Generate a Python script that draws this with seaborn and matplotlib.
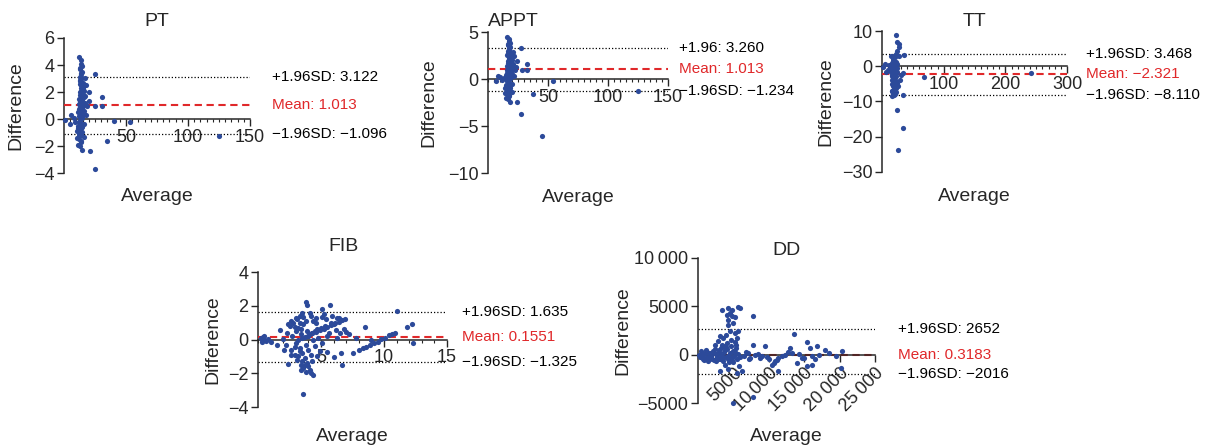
import pandas as pd
import matplotlib
matplotlib.use("Agg")
import matplotlib.pyplot as plt
import matplotlib.transforms as mtransforms
from matplotlib.ticker import MultipleLocator
import seaborn as sns

# ---- data (Bland-Altman plots) ----
pt_avg = [12.3, 13.5, 13.8, 14.2, 13.0, 14.8, 13.6, 12.8, 14.5, 13.2,
          15.1, 12.5, 14.0, 13.4, 15.6, 16.4, 12.9, 14.6, 13.1, 17.2,
          15.8, 12.2, 14.3, 13.7, 16.9, 11.8, 15.2, 18.5, 13.3, 14.9,
          12.6, 16.1, 11.5, 13.9, 15.5, 12.1, 14.4, 17.6, 19.8, 20.5,
          18.0, 16.8, 24.8,
          12.0, 13.6, 11.2, 14.7, 12.7, 13.3, 11.9, 14.1, 10.8, 12.4,
          13.8, 11.6, 12.9, 14.5, 15.8, 16.5, 10.4,
          1.0, 5.0, 6.0, 8.0, 9.0,
          25.0, 31.0, 31.0, 40.0, 53.0, 35.0, 21.0, 25.0, 125.0,
          13.1, 14.0, 12.6, 15.0, 13.5, 14.2, 12.9, 13.7, 14.8, 12.4,
          13.2, 15.4, 14.1, 13.0, 12.7, 13.9, 14.6, 11.4, 12.3, 13.4]
pt_diff = [4.6, 4.4, 4.1, 3.9, 3.7, 3.5, 3.3, 3.1, 3.0, 2.8,
           2.7, 2.6, 2.5, 2.3, 2.2, 2.1, 2.0, 1.9, 1.8, 1.7,
           1.6, 1.5, 1.4, 1.3, 1.2, 1.1, 1.0, 1.0, 0.9, 0.8,
           0.7, 0.6, 0.5, 0.4, 0.3, 0.2, 0.1, 0.3, 1.3, 2.0,
           2.5, 3.0, 1.0,
           -0.2, -0.3, -0.5, -0.6, -0.8, -1.0, -1.1, -1.2, -1.4, -1.5,
           -1.7, -1.9, -2.0, -2.3, -1.3, -0.4, -0.9,
           -0.1, -0.4, 0.3, 0.1, -0.2,
           3.3, 1.6, 1.0, -0.15, -0.2, -1.6, -2.4, -3.7, -1.25,
           3.8, 3.4, 2.9, 2.4, 2.1, 1.7, 1.35, 1.15, 0.95, 0.75,
           0.55, 0.45, 0.15, -0.1, -0.45, -0.7, -0.95, -0.7, -1.25, -1.6]

appt_avg = [16.0, 17.2, 17.5, 18.0, 16.8, 18.6, 17.4, 16.5, 18.3, 17.0,
            19.0, 16.2, 17.8, 17.1, 19.5, 20.3, 16.7, 18.4, 16.9, 21.0,
            19.6, 15.9, 18.1, 17.5, 20.8, 15.5, 19.0, 22.4, 17.1, 18.7,
            16.3, 20.0, 15.2, 17.7, 19.3, 15.8, 18.2, 21.5, 23.6, 24.3,
            21.9, 20.6, 28.5,
            15.7, 17.4, 14.9, 18.5, 16.4, 17.1, 15.6, 17.9, 14.5, 16.1,
            17.6, 15.3, 16.6, 18.3, 19.6, 20.3, 14.1,
            6.5, 8.0, 10.0, 12.0, 13.0,
            27.5, 32.5, 32.5, 54.0, 37.5, 24.0, 27.5, 45.0, 125.0,
            16.9, 17.8, 16.4, 18.8, 17.3, 18.0, 16.7, 17.5, 18.6, 16.2,
            17.0, 19.2, 17.9, 16.8, 16.5, 17.7, 18.4, 15.1, 16.0, 17.2]
appt_diff = [4.5, 4.3, 4.0, 3.8, 3.6, 3.4, 3.2, 3.0, 2.9, 2.7,
             2.6, 2.5, 2.4, 2.2, 2.1, 2.0, 1.9, 1.8, 1.7, 1.6,
             1.5, 1.4, 1.3, 1.2, 1.1, 1.0, 0.9, 1.0, 0.8, 0.7,
             0.6, 0.5, 0.4, 0.3, 0.2, 0.1, 0.0, 0.3, 1.3, 1.9,
             2.4, 2.9, 1.0,
             -0.2, -0.4, -0.6, -0.7, -0.9, -1.1, -1.2, -1.3, -1.5, -1.6,
             -1.8, -2.0, -2.1, -2.4, -1.4, -0.5, -1.0,
             -0.2, 0.3, 0.2, -0.1, 0.1,
             3.3, 1.6, 1.0, -0.2, -1.6, -2.4, -3.7, -6.1, -1.3,
             3.7, 3.3, 2.8, 2.3, 2.0, 1.6, 1.25, 1.05, 0.85, 0.65,
             0.45, 0.35, 0.05, -0.15, -0.5, -0.8, -1.0, -0.8, -1.35, -1.7]

tt_avg = [23, 25, 27, 28, 24, 22, 19, 21, 18, 20,
          23, 17, 22, 19, 16, 21, 24, 18, 20, 15,
          22, 19, 17, 23, 21, 18, 20, 16, 22, 19,
          24, 17, 21, 18, 20, 23, 19, 16, 22, 18,
          21, 20, 17, 19, 14, 12, 10, 26, 28, 30,
          25, 29,
          15, 18, 21, 24, 17, 20, 23, 16, 19, 22,
          36, 34, 68, 34, 24, 34, 26, 241, 2, 7, 5]
tt_diff = [9.0, 7.0, 6.2, 5.5, 4.2, 3.6, 3.0, 2.5, 2.0, 1.6,
           1.2, 0.8, 0.5, 0.2, 0.0, -0.3, -0.6, -0.9, -1.2, -1.5,
           -1.8, -2.1, -2.4, -2.7, -3.0, -3.3, -3.6, -3.9, -4.2, -4.5,
           -4.8, -5.1, -5.4, -5.7, -6.0, -6.3, -6.6, -6.9, -7.2, -7.5,
           -7.8, -8.2, -8.5, 1.0, -0.5, 0.3, -1.0, -5.5, 3.0, -2.5,
           0.5, -3.8,
           2.8, 1.4, -0.1, -1.6, -2.9, -4.4, -5.9, -7.0, -3.5, 0.9,
           3.1, -2.0, -3.1, -8.2, -12.5, -17.6, -23.8, -2.0, -0.2, -1.5, 0.6]

fib_avg = [0.2, 0.3, 0.4, 0.5, 0.6, 0.3, 0.5, 0.8, 1.75, 1.5, 1.0,
           2.0, 2.2, 2.3, 2.4, 2.5, 2.6, 2.7, 2.8, 2.9, 3.0,
           3.0, 3.1, 3.1, 3.2, 3.2, 3.3, 3.3, 3.4, 3.4, 3.5,
           3.5, 3.5, 3.6, 3.6, 3.6, 3.7, 3.7, 3.8, 3.8, 3.8,
           3.9, 3.9, 3.9, 4.0, 4.0, 4.1, 4.1, 4.1, 4.2, 4.2,
           4.3, 4.3, 4.4, 4.4, 4.5, 4.5, 4.6, 4.7, 4.7, 4.8,
           4.9, 5.05, 5.2, 5.0, 5.1, 5.3, 5.45, 5.5, 5.7, 5.6,
           5.8, 6.0, 6.0, 6.2, 6.3, 6.4, 6.5, 6.6, 6.7, 6.8,
           6.9, 7.0, 7.2, 7.5,
           4.0, 4.3, 4.6, 4.9, 5.2, 5.5, 5.8, 6.1, 6.4, 6.7,
           8.0, 8.3, 8.6, 8.9, 9.2, 9.5, 9.8, 10.1, 10.4, 10.6,
           11.0, 12.2, 11.8, 12.3, 8.5, 10.9, 9.0, 7.8,
           2.1, 2.6, 2.9, 3.2, 3.4, 3.7, 3.8, 4.0, 4.2, 3.5, 3.3,
           2.4, 2.6, 2.9, 3.0, 3.3, 3.6, 3.4, 4.4, 4.6, 5.1, 5.4, 5.9, 6.3]
fib_diff = [0.1, -0.05, 0.15, 0.0, -0.1, -0.15, 0.2, 0.05, 0.57, -0.35, -0.15,
            0.05, -0.3, 0.4, -1.47, 0.8, -0.6, 0.2, 1.0, -0.9, 0.5,
            -0.2, 1.2, -1.2, 0.0, 0.7, -0.5, 1.4, -1.5, 0.3, 1.55,
            -0.8, 0.1, -3.25, -1.7, 0.9, 0.14, -1.1, 2.25, -0.3, 1.1,
            2.05, -1.4, 0.5, -0.6, 0.2, 1.6, -1.8, 0.3, 1.4, -0.9,
            0.4, -1.3, -2.1, 0.0, 0.5, -0.4, 1.0, 0.6, -1.0, 0.1,
            -0.7, 1.8, 1.5, 0.7, -0.2, 0.8, -0.75, 0.2, 2.05, 0.4,
            1.0, -1.04, 0.9, 0.55, 0.1, 1.3, 0.4, -0.8, -1.53, 0.6,
            1.2, 0.45, 0.3, -0.8,
            0.22, 0.36, 0.43, 0.56, 0.62, 0.76, 0.83, 0.95, 1.02, 1.16,
            -0.65, -0.53, -0.44, -0.31, -0.2, -0.12, 0.03, 0.11, 0.24, 0.33,
            1.67, 0.92, 0.73, -0.22, 0.73, 0.37, 0.0, 0.1,
            -0.6, -0.9, -0.45, -1.0, -1.8, -1.5, -1.9, -1.55, -2.0, -1.3, -0.7,
            0.9, 1.1, 0.75, 1.3, 1.0, 1.35, 0.6, 1.1, 1.3, 1.35, 1.2, 1.4, 1.3]

dd_avg = [100, 300, 500, 700, 900, 1100, 1300, 1500, 1700, 1900,
          2100, 2300, 2500, 2700, 2900, 3100, 3300, 3500, 3700, 3900,
          4100, 4300, 4500, 4700, 4900, 5100, 5300, 5500, 5700, 6000,
          400, 800, 1200, 1600, 2000, 2400, 2800, 3200, 3600, 4000,
          4400, 4800, 5200, 600, 1000, 1400, 1800, 2200, 2600, 3000,
          3400, 3800, 4200, 4600, 5000, 5400,
          3350, 4290, 4760, 5710, 5940, 4060, 4290, 4760, 5240, 7830,
          4290, 4530, 5240, 5470, 5710, 3110, 3580, 2880, 3350, 3820,
          2410, 4060, 4500, 5000, 3900, 5200, 4700,
          3110, 4290, 5470, 6180, 4940, 7770, 3800, 5800,
          7830, 9480, 8070, 9010, 10420, 10900, 11370, 11840, 12310, 13020,
          13560, 13250, 13960, 14670, 15400, 15850, 16800, 16090, 17030, 17970,
          20330, 20200, 15380, 11370, 16100, 6500, 7000, 7400, 8500, 9800,
          10000, 12700, 14200, 15000, 16500, 18500, 19500, 6800, 7200, 8800,
          10700, 11100]
dd_diff = [0, -200, 150, -400, 100, -300, 300, -500, 200, -150,
           400, -600, 100, -250, 500, -400, 0, -700, 300, -200,
           600, -500, 200, -300, 400, -100, 700, -400, 100, -200,
           400, -600, 500, -100, -400, 600, -500, 700, -300, 800,
           -800, -600, 300, -100, 200, -700, -300, 200, -700, 300,
           -100, 500, -100, 900, -800, 1000,
           4640, 4810, 4640, 4980, 4810, 4120, 3610, 3950, 3850, 3950,
           3090, 2400, 2230, 1720, 2400, 1890, 1720, 1370, 1030, 860,
           1030, 1200, 4300, 3300, 2000, 1300, 1500,
           -1720, -1440, -1890, -1720, -4950, -4330, -1100, -1200,
           1030, 860, 0, -170, -1030, -690, -340, -170, 0, 690,
           2160, 170, -860, -340, 1340, 690, 930, -170, 0, 520,
           340, -1340, -1200, -1720, -1030, -100, 200, -300, 100, -200,
           -400, 300, 100, -300, -400, 200, -100, 300, -400, -300,
           -900, -600]

names = ["PT", "APPT", "TT", "FIB", "DD"]
means = [1.013, 1.013, -2.321, 0.1551, 0.3183]
uppers = [3.122, 3.260, 3.468, 1.635, 2652]
lowers = [-1.096, -1.234, -8.110, -1.325, -2016]
mean_texts = ["Mean: 1.013", "Mean: 1.013", "Mean: \u22122.321",
              "Mean: 0.1551", "Mean: 0.3183"]
upper_texts = ["+1.96SD: 3.122", "+1.96: 3.260", "+1.96SD: 3.468",
               "+1.96SD: 1.635", "+1.96SD: 2652"]
lower_texts = ["\u22121.96SD: \u22121.096", "\u22121.96SD: \u22121.234",
               "\u22121.96SD: \u22128.110", "\u22121.96SD: \u22121.325",
               "\u22121.96SD: \u22122016"]
x_ticks = [[50, 100, 150], [50, 100, 150], [100, 200, 300], [5, 10, 15],
           [5000, 10000, 15000, 20000, 25000]]
x_ticklabels = [["50", "100", "150"], ["50", "100", "150"],
                ["100", "200", "300"], ["5", "10", "15"],
                ["5000", "10\u2009000", "15\u2009000", "20\u2009000", "25\u2009000"]]
y_ticks = [[-4, -2, 0, 2, 4, 6], [-10, -5, 0, 5], [-30, -20, -10, 0, 10],
           [-4, -2, 0, 2, 4], [-5000, 0, 5000, 10000]]
y_ticklabels = [["\u22124", "\u22122", "0", "2", "4", "6"],
                ["\u221210", "\u22125", "0", "5"],
                ["\u221230", "\u221220", "\u221210", "0", "10"],
                ["\u22124", "\u22122", "0", "2", "4"],
                ["\u22125000", "0", "5000", "10\u2009000"]]
x_lims = [(0, 150), (0, 150), (0, 300), (0, 15), (0, 25000)]
y_lims = [(-4, 6), (-10, 5), (-30, 10), (-4, 4), (-5000, 10000)]
x_minor = [5, 5, 10, 1, None]
avgs = [pt_avg, appt_avg, tt_avg, fib_avg, dd_avg]
diffs = [pt_diff, appt_diff, tt_diff, fib_diff, dd_diff]

# ---- layout (pixel boxes: left, right, top, bottom) ----
boxes = [(64, 250, 38, 173), (488, 668, 32, 173), (882, 1067, 31, 172),
         (258, 447, 272, 407), (698, 875, 258, 403)]
text_x = [1.12, 1.06, 1.105, 1.08, 1.13]
title_y = [1.09, 1.04, 1.035, 1.155, 1.02]
title_x = [0.5, 0.14, 0.5, 0.45, 0.5]
xlabel_y = [-0.11, -0.11, -0.11, -0.155, -0.17]
ylabel_x = [-0.215, -0.283, -0.26, -0.196, -0.379]

BLUE = "#2c4a9a"
RED = "#e0282a"

sns.set_style("ticks")
plt.rcParams["font.family"] = ["Liberation Sans", "DejaVu Sans"]
plt.rcParams["axes.linewidth"] = 1.1

W, H = 1214, 448
fig = plt.figure(figsize=(W / 100, H / 100), dpi=100)

for i, name in enumerate(names):
    l, r, t, b = boxes[i]
    ax = fig.add_axes([l / W, 1 - b / H, (r - l) / W, (b - t) / H])
    df = pd.DataFrame({"Average": avgs[i], "Difference": diffs[i]})
    sns.scatterplot(data=df, x="Average", y="Difference", ax=ax, color=BLUE,
                    s=14, linewidth=0, zorder=4, clip_on=False)
    ax.set_xlim(*x_lims[i])
    ax.set_ylim(*y_lims[i])

    ax.axhline(uppers[i], color="black", ls=(0, (1, 1.6)), lw=0.9, zorder=2)
    ax.axhline(lowers[i], color="black", ls=(0, (1, 1.6)), lw=0.9, zorder=2)
    ax.axhline(means[i], color=RED, ls=(0, (3.5, 2.2)), lw=1.5, zorder=3)

    ax.spines["top"].set_visible(False)
    ax.spines["right"].set_visible(False)
    ax.spines["bottom"].set_position(("data", 0))
    ax.spines["bottom"].set_zorder(3)

    ax.set_xticks(x_ticks[i])
    if name == "DD":
        ax.set_xticklabels(x_ticklabels[i], rotation=45, ha="right",
                           rotation_mode="anchor", fontsize=13)
    else:
        ax.set_xticklabels(x_ticklabels[i], fontsize=13)
    if x_minor[i]:
        ax.xaxis.set_minor_locator(MultipleLocator(x_minor[i]))
    ax.set_yticks(y_ticks[i])
    ax.set_yticklabels(y_ticklabels[i], fontsize=13)
    ax.tick_params(axis="both", which="major", length=5, width=1.0, pad=2)
    ax.tick_params(axis="x", which="minor", length=2.5, width=0.8)

    ax.set_xlabel("Average", fontsize=14)
    ax.xaxis.set_label_coords(0.5, xlabel_y[i])
    ax.set_ylabel("Difference", fontsize=14)
    ax.yaxis.set_label_coords(ylabel_x[i], 0.5)
    ax.set_title(name, fontsize=14, y=title_y[i], pad=0, x=title_x[i])

    trans = mtransforms.blended_transform_factory(ax.transAxes, ax.transData)
    ax.text(text_x[i], uppers[i], upper_texts[i], transform=trans,
            va="center", ha="left", fontsize=11, color="black")
    ax.text(text_x[i], means[i], mean_texts[i], transform=trans,
            va="center", ha="left", fontsize=11, color=RED)
    ax.text(text_x[i], lowers[i], lower_texts[i], transform=trans,
            va="center", ha="left", fontsize=11, color="black")

fig.savefig("out.png", dpi=100)
